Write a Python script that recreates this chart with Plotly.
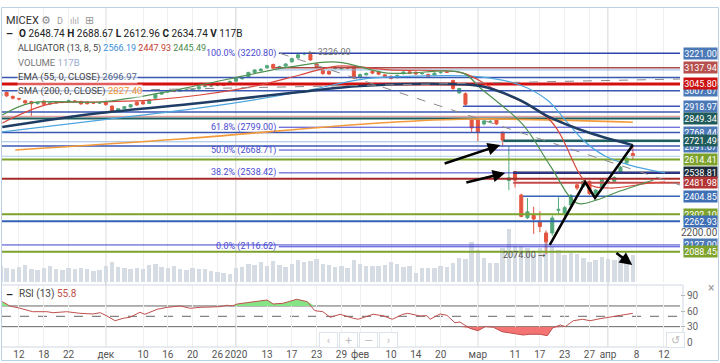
import plotly.graph_objects as go

FONT = "Roboto, 'DejaVu Sans', sans-serif"

# ---------------- data ----------------
days = list(range(-3, 100))  # trading-day index (0 = 12 Nov 2019)
opens = [2978, 2998, 2975, 2962, 2950, 2945, 2934, 2948, 2931, 2937, 2941, 2943, 2948,
         2946, 2943, 2938, 2937, 2945, 2920, 2893, 2905, 2915, 2942, 2944, 2935, 2965, 2988,
         3000, 3005, 3004, 3010, 3008, 3018, 3031, 3034, 3038, 3041, 3045, 3062, 3076, 3085,
         3112, 3122, 3138, 3157, 3140, 3148, 3172, 3195, 3217, 3214, 3160, 3125, 3118, 3135,
         3132, 3138, 3138, 3085, 3098, 3118, 3115, 3098, 3090, 3082, 3105, 3115, 3113, 3104,
         3100, 3096, 3110, 3114, 3065, 2995, 2990, 2840, 2840, 2818, 2830, 2840, 2770, 2495,
         2545, 2412, 2282, 2295, 2260, 2195, 2195, 2325, 2310, 2355, 2470, 2462, 2490, 2418,
         2458, 2486, 2490, 2545, 2595, 2648.74]
highs = [3000, 3003, 2980, 2968, 2955, 2950, 2946, 2952, 2942, 2948, 2948, 2956, 2953,
         2950, 2947, 2943, 2944, 2950, 2923, 2909, 2920, 2931, 2947, 2948, 2958, 2990, 3002,
         3010, 3012, 3016, 3018, 3020, 3035, 3040, 3042, 3046, 3047, 3066, 3082, 3086, 3115,
         3130, 3136, 3155, 3162, 3150, 3164, 3196, 3218, 3226, 3220, 3166, 3130, 3124, 3145,
         3146, 3144, 3142, 3105, 3112, 3123, 3120, 3103, 3094, 3100, 3118, 3120, 3118, 3112,
         3105, 3112, 3118, 3120, 3070, 3024, 2998, 2848, 2845, 2842, 2840, 2845, 2775, 2690,
         2550, 2420, 2395, 2345, 2320, 2210, 2295, 2400, 2350, 2418, 2478, 2498, 2495, 2445,
         2505, 2496, 2520, 2578, 2630, 2688.67]
lows = [2970, 2972, 2958, 2952, 2932, 2857, 2928, 2925, 2926, 2932, 2935, 2938, 2942,
        2928, 2929, 2931, 2932, 2922, 2886, 2888, 2900, 2911, 2922, 2928, 2931, 2962, 2984,
        2996, 2999, 3000, 3005, 3004, 3014, 3026, 3029, 3033, 3034, 3040, 3058, 3070, 3080,
        3108, 3117, 3132, 3130, 3134, 3143, 3168, 3190, 3210, 3178, 3134, 3098, 3098, 3128,
        3127, 3130, 3074, 3078, 3093, 3102, 3096, 3082, 3072, 3078, 3100, 3102, 3098, 3099,
        3083, 3092, 3105, 3108, 3012, 2990, 2922, 2770, 2718, 2810, 2822, 2812, 2690, 2440,
        2455, 2285, 2275, 2190, 2200, 2074, 2180, 2300, 2290, 2345, 2440, 2455, 2412, 2410,
        2452, 2478, 2484, 2540, 2588, 2612.96]
closes = [2992, 2978, 2965, 2960, 2938, 2933, 2940, 2930, 2938, 2944, 2942, 2951, 2947,
          2932, 2933, 2937, 2938, 2928, 2892, 2905, 2916, 2927, 2926, 2932, 2955, 2985, 2996,
          3005, 3004, 3010, 3012, 3016, 3030, 3033, 3036, 3040, 3039, 3060, 3078, 3080, 3112,
          3126, 3130, 3150, 3136, 3144, 3160, 3190, 3212, 3219, 3183, 3140, 3105, 3103, 3138,
          3140, 3137, 3080, 3100, 3106, 3108, 3102, 3088, 3078, 3095, 3114, 3107, 3103, 3106,
          3088, 3108, 3112, 3113, 3020, 3020, 2930, 2795, 2770, 2835, 2832, 2818, 2725, 2510,
          2497, 2290, 2316, 2275, 2232, 2145, 2281, 2330, 2340, 2410, 2452, 2490, 2420, 2440,
          2500, 2489, 2512, 2570, 2622, 2634.74]
volumes = [70, 60, 55, 65, 75, 58, 52, 60, 68, 55, 50, 62, 58,
           60, 55, 48, 52, 70, 85, 65, 60, 55, 62, 58, 75, 80, 65, 60, 70, 55, 50, 62, 58,
           55, 48, 45, 40, 35, 60, 65, 80, 75, 85, 70, 90, 75, 65, 80, 95, 85, 90, 100, 80,
           75, 65, 70, 60, 95, 80, 70, 68, 70, 74, 87, 78, 65, 70, 40, 61, 62, 62, 70, 65,
           83, 104, 100, 175, 139, 104, 83, 83, 148, 230, 157, 157, 148, 117, 148, 175, 152,
           139, 117, 126, 120, 105, 85, 95, 110, 100, 95, 115, 110, 117]

tick_pos = [0, 4, 8, 14, 20, 24, 28, 32, 35, 40, 44, 48, 52, 55, 60, 64, 68, 74, 80, 84,
            88, 92, 95, 99.6, 104]
tick_text = ['12', '18', '22', 'дек', '10', '16', '20', '26', '2020', '13', '17', '23', '29',
             'фев', '10', '14', '20', 'мар', '11', '17', '23', '27', 'апр', '8', '12']
month_pos = [14, 35, 74, 95]

# indicator lines
sma_day = [-0.6, 26, 58.2, 72.7, 99]
sma_val = [2669, 2732, 2823, 2846, 2827.4]
ema_day = [-2.7, 13.1, 29.2, 45.3, 55, 67.9, 74.4, 80.8, 85.2, 92.1, 99]
ema_val = [2800, 2880, 2937, 3000, 3034, 3046, 3034, 2954, 2863, 2766, 2697]
jaw_day = [-2.7, 13.1, 29.2, 45.3, 55.5, 64.7, 74.4, 80.8, 85.2, 88.1, 91.3, 94.5, 98.5, 104.2]
jaw_val = [2772, 2840, 2909, 3000, 3074, 3091, 3086, 3040, 2954, 2840, 2715, 2635, 2583, 2538]
teeth_day = [-2.7, 5.0, 13.1, 21.1, 29.2, 38.9, 45.3, 51.3, 59.8, 71.6, 76, 85.6, 91.6, 95.3, 101.8, 104.2]
teeth_val = [2823, 2932, 2943, 2954, 2983, 3040, 3097, 3148, 3126, 3108, 3029, 2840, 2481, 2452, 2481, 2486]
lips_day = [-2.7, 1.8, 13.1, 22.7, 29.2, 43.7, 51.3, 59.4, 71.6, 74.4, 81.3, 85.6, 90, 93.2, 96.5, 102.3]
lips_val = [2869, 2937, 2943, 2994, 3040, 3143, 3171, 3108, 3108, 3023, 2812, 2583, 2366, 2384, 2429, 2498]

rsi_day = [-2.7, -1.5, 0.2, 2.2, 4.5, 5.5, 7.7, 9.8, 11.9, 13.1, 14.2, 15.5, 16.8, 17.9, 19.5,
           20.3, 22.3, 23.9, 26.0, 27.6, 29.2, 30.8, 32.4, 33.5, 34.4, 35.2, 36.8, 38.4, 40.0,
           41.0, 42.6, 44.8, 46.5, 47.7, 49.0, 50.2, 51.8, 53.9, 54.7, 57.1, 58.7, 60.2, 61.9,
           62.7, 64.7, 65.8, 66.3, 67.9, 69.0, 70.3, 71.1, 72.7, 74.0, 75.2, 76.5, 77.9, 79.2,
           80.3, 81.3, 82.4, 84.0, 85.2, 86.1, 87.3, 88.1, 89.4, 90.9, 92.1, 93.7, 95.0, 96.5,
           98.1, 99.0]
rsi_val = [78.3, 70, 65.5, 58.9, 58.9, 57, 58.9, 55.8, 54.5, 57, 50.6, 41.5, 46.2, 48.1, 57.8,
           53.9, 63.6, 67.4, 70, 65.5, 67.4, 68.6, 68.6, 71.3, 70, 73.8, 76.3, 79, 81.5,
           73.8, 75.2, 82.9, 78.3, 60.9, 58.9, 48.1, 53.9, 46.2, 44.3, 53.9, 51.2, 44.3, 53.9,
           55.8, 50.6, 51.2, 44.3, 54.5, 51.9, 37.7, 39, 26.9, 22.2, 30, 28.8, 20.3, 17.2,
           15.8, 13.9, 15.3, 15.3, 12.6, 28, 33.2, 30, 41.5, 44.3, 41.5, 45.4, 48.1, 50.6,
           54.5, 55.8]

# horizontal drawing levels
level_price = [3221.00, 3137.94, 3126, 3083, 3045.80, 3007.67, 2918.97, 2886, 2860, 2849.34,
               2799.00, 2768.44, 2716, 2721.49, 2691.67, 2668.71, 2633, 2614.41, 2538.81,
               2538.42, 2505, 2481.98, 2404.85, 2302.10, 2262.93, 2127.00, 2116.62, 2088.45]
level_start = [41.9, 41.3, 41.3, -2.74, -2.74, -2.74, 71.6, -2.74, -2.74, -2.74,
               41.9, -2.74, -2.74, 78.1, -2.74, 41.9, -2.74, -2.74, 79.7,
               41.9, -2.74, 79.7, 81.3, -2.74, -2.74, -2.74, 41.9, -2.74]
level_color = ['#2e44a8', '#a84a4a', '#8db4df', '#3a56b4', '#d40f0f', '#3a56b4', '#3a56b4',
               '#3a56b4', '#e4a0a0', '#1e5e5e', '#3f3fd0', '#3a56b4', '#9dbfe6', '#1e5e5e',
               '#3a56b4', '#3f3fd0', '#b0cfea', '#7da22b', '#1b2b3f', '#3f3fd0', '#a52a2a',
               '#c44848', '#3563b3', '#7da22b', '#3563b3', '#3f3fd0', '#3f3fd0', '#7da22b']
level_width = [1.5, 1.5, 1, 1.5, 3, 1.5, 1.5, 1.5, 1.5, 2, 1, 1.5, 1, 2.5, 1.5, 1, 1, 2, 2.5,
               1, 2, 2, 1.5, 2, 2, 1, 1, 2]

box_price = [3221.00, 3137.94, 3007.67, 3045.80, 2918.97, 2849.34, 2768.44, 2691.67, 2721.49,
             2614.41, 2538.81, 2481.98, 2404.85, 2302.10, 2262.93, 2127.00, 2088.45]
box_color = ['#4b79b7', '#b5504e', '#4b79b7', '#cc1111', '#4b79b7', '#1f5b5b', '#4b79b7',
             '#4b79b7', '#1f5b5b', '#7da22b', '#1c2a3a', '#b33434', '#3f6fb5', '#7da22b',
             '#3f6fb5', '#4b79b7', '#7da22b']

fib_level = [3220.80, 2799.00, 2668.71, 2538.42, 2116.62]
fib_name = ['100.0%', '61.8%', '50.0%', '38.2%', '0.0%']
fib_label_day = 41.8

trend_a_day, trend_a_val = [42.1, 106.6], [3220.8, 2469]
trend_b_day, trend_b_val = [18.4, 106.6], [3011.5, 3074]
zig_day = [85.6, 91.3, 92.9, 99.0]
zig_val = [2127, 2486, 2395, 2697]
arrows = [((68.4, 2589), (77.6, 2697)), ((71.9, 2481), (78.4, 2538)), ((96.1, 2087), (98.9, 2013))]

# ---------------- geometry ----------------
W, H = 720, 363
ML, MR, MT, MB = 2, 40, 8, 16
PW, PH = W - ML - MR, H - MT - MB


def px(x):
    return (x - ML) / PW


def py(y):
    return (H - MB - y) / PH


X_RANGE = [-2.74, 106.6]
PRICE_RANGE = [1915.5, 3479.5]
VOL_RANGE = [0, 1187]
RSI_RANGE = [-9.3, 110.5]

fig = go.Figure()

fig.add_trace(go.Bar(x=days, y=volumes, xaxis='x', yaxis='y', marker_color='#d6dce3',
                     marker_line_width=0, width=0.72, hoverinfo='skip'))

for p, s, c, w in zip(level_price, level_start, level_color, level_width):
    fig.add_trace(go.Scatter(x=[s, X_RANGE[1]], y=[p, p], mode='lines', yaxis='y2',
                             line=dict(color=c, width=w), hoverinfo='skip'))

for dd, vv, c, w in [(sma_day, sma_val, '#f39a3c', 1.6), (jaw_day, jaw_val, '#4ea6de', 1.2),
                     (teeth_day, teeth_val, '#d9463b', 1.2), (lips_day, lips_val, '#4f9150', 1.2),
                     (ema_day, ema_val, '#1f3d64', 2.5)]:
    fig.add_trace(go.Scatter(x=dd, y=vv, mode='lines', yaxis='y2', line_shape='spline',
                             line=dict(color=c, width=w), hoverinfo='skip'))

for dd, vv in [(trend_a_day, trend_a_val), (trend_b_day, trend_b_val)]:
    fig.add_trace(go.Scatter(x=dd, y=vv, mode='lines', yaxis='y2',
                             line=dict(color='#8a8a8a', width=1, dash='dash'), hoverinfo='skip'))

G, R = '#53a87a', '#e4553f'
fig.add_trace(go.Candlestick(x=days, open=opens, high=highs, low=lows, close=closes,
                             yaxis='y2', whiskerwidth=0,
                             increasing=dict(line=dict(color=G, width=1), fillcolor=G),
                             decreasing=dict(line=dict(color=R, width=1), fillcolor=R),
                             hoverinfo='skip'))

fig.add_trace(go.Scatter(x=zig_day, y=zig_val, mode='lines', yaxis='y2',
                         line=dict(color='black', width=2.5), hoverinfo='skip'))

# RSI
n = len(rsi_day)
fig.add_trace(go.Scatter(x=rsi_day, y=[70] * n, yaxis='y3', mode='lines', line=dict(width=0),
                         hoverinfo='skip'))
fig.add_trace(go.Scatter(x=rsi_day, y=[max(v, 70) for v in rsi_val], yaxis='y3', mode='lines',
                         line=dict(width=0), fill='tonexty', fillcolor='#86e486', hoverinfo='skip'))
fig.add_trace(go.Scatter(x=rsi_day, y=[30] * n, yaxis='y3', mode='lines', line=dict(width=0),
                         hoverinfo='skip'))
fig.add_trace(go.Scatter(x=rsi_day, y=[min(v, 30) for v in rsi_val], yaxis='y3', mode='lines',
                         line=dict(width=0), fill='tonexty', fillcolor='#f47474', hoverinfo='skip'))
fig.add_trace(go.Scatter(x=rsi_day, y=rsi_val, yaxis='y3', mode='lines',
                         line=dict(color='#c0504d', width=1), hoverinfo='skip'))

shapes = []
for lv, dash in [(70, 'solid'), (50, 'dash'), (30, 'solid')]:
    shapes.append(dict(type='line', xref='paper', x0=0, x1=1, yref='y3', y0=lv, y1=lv,
                       line=dict(color='#666', width=1, dash=dash), layer='below'))
for m in month_pos:
    shapes.append(dict(type='line', xref='x', x0=m, x1=m, yref='paper', y0=0, y1=1,
                       line=dict(color='#c4c4c4', width=1), layer='below'))
edge = '#cfd8e3'
shapes += [
    dict(type='line', xref='paper', yref='paper', x0=0, x1=px(683), y0=py(285), y1=py(285), line=dict(color=edge, width=1)),
    dict(type='line', xref='paper', yref='paper', x0=0, x1=px(683), y0=py(347), y1=py(347), line=dict(color=edge, width=1)),
    dict(type='line', xref='paper', yref='paper', x0=px(683), x1=px(683), y0=py(347), y1=py(285), line=dict(color=edge, width=1)),
    dict(type='rect', xref='paper', yref='paper', x0=px(1.5), x1=px(718.5), y0=py(360.5), y1=py(7.5),
         line=dict(color='#bcd0e6', width=1)),
]

ann = []
for p, c in zip(box_price, box_color):
    ann.append(dict(xref='paper', x=px(683), xanchor='left', yref='y2', y=p, yanchor='middle',
                    text=f'{p:.2f}', showarrow=False, bgcolor=c, width=33, height=11,
                    borderpad=0, font=dict(color='white', size=9, family=FONT)))
for lv, nm in zip(fib_level, fib_name):
    ann.append(dict(xref='x', x=fib_label_day, xanchor='right', yref='y2', y=lv, yanchor='middle',
                    text=f'{nm} ({lv:.2f})', showarrow=False,
                    font=dict(color='#4a4ad0', size=9, family=FONT)))
ann.append(dict(xref='x', x=46.3, xanchor='left', yref='y2', y=3226, yanchor='middle',
                text='← 3226.00', showarrow=False, font=dict(color='#777', size=9, family=FONT)))
ann.append(dict(xref='x', x=85.3, xanchor='right', yref='y2', y=2068, yanchor='middle',
                text='2074.00 →', showarrow=False, font=dict(color='#555', size=9, family=FONT)))
for (sx, sy), (ex, ey) in arrows:
    ann.append(dict(xref='x', yref='y2', x=ex, y=ey, axref='x', ayref='y2', ax=sx, ay=sy,
                    text='', showarrow=True, arrowhead=2, arrowsize=1, arrowwidth=2.5,
                    arrowcolor='black'))


def lab(x, y, text, size=10, color='#444', bg=None):
    d = dict(xref='paper', yref='paper', x=px(x), y=py(y), xanchor='left', yanchor='middle',
             text=text, showarrow=False, font=dict(size=size, color=color, family=FONT))
    if bg:
        d['bgcolor'] = bg
        d['borderpad'] = 0
    return d


bgc = 'rgba(255,255,255,0.65)'
ann += [
    lab(4, 20, 'MICEX', 11, '#333'),
    lab(39, 20, '⚙', 11, '#888'),
    lab(55, 21, 'D', 9, '#999'),
    lab(68, 21, 'ılıl', 9, '#aaa'),
    lab(83, 20, '⊞', 11, '#999'),
    lab(4, 34, '<b>–</b>', 11, '#222'),
    lab(17, 34, '<b>O</b> 2648.74 <b>H</b> 2688.67 <b>L</b> 2612.96 <b>C</b> 2634.74 <b>V</b> 117B', 10, '#222'),
    lab(17, 48, "ALLIGATOR (13, 8, 5) <span style='color:#3b8fd8'>2566.19</span> "
                "<span style='color:#c23b2f'>2447.93</span> <span style='color:#4a8a4a'>2445.49</span>", 9, '#444', bg=bgc),
    lab(17, 62, "VOLUME <span style='color:#9aaac8'>117B</span>", 9.5, '#777', bg=bgc),
    lab(17, 77, "EMA (55, 0, CLOSE) <span style='color:#4d6488'>2696.97</span>", 9.5, '#444', bg=bgc),
    lab(17, 91, "SMA (200, 0, CLOSE) <span style='color:#f0902f'>2827.40</span>", 9.5, '#444', bg=bgc),
    lab(4, 294, '<b>–</b>', 11, '#222'),
    lab(17, 294, "RSI (13) <span style='color:#c0504d'>55.8</span>", 10, '#444'),
    lab(706, 288, '×', 12, '#999'),
]
for x, t in [(319, '‹'), (339, '+'), (359, '—'), (379, '›'), (666, '↺')]:
    ann.append(dict(xref='paper', yref='paper', x=px(x), y=py(340), xanchor='left', yanchor='middle',
                    text=t, showarrow=False, width=17, height=14, borderpad=0,
                    bordercolor='#dde3ea', borderwidth=1, bgcolor='white',
                    font=dict(size=11, color='#bbb', family=FONT)))

fig.update_layout(
    width=W, height=H, margin=dict(l=ML, r=MR, t=MT, b=MB, autoexpand=False),
    paper_bgcolor='white', plot_bgcolor='white', showlegend=False,
    font=dict(family=FONT, size=10, color='#555'),
    xaxis=dict(domain=[0, 1], range=X_RANGE, anchor='y3', tickvals=tick_pos, ticktext=tick_text,
               tickangle=0, automargin=False,
               showgrid=True, gridcolor='#efefef', zeroline=False, showline=False, ticks='',
               tickfont=dict(size=10, color='#555'), rangeslider=dict(visible=False), fixedrange=True),
    yaxis=dict(domain=[py(282), 1], range=VOL_RANGE, visible=False, anchor='x', automargin=False),
    yaxis2=dict(overlaying='y', anchor='x', side='right', range=PRICE_RANGE, tickvals=[2200],
                ticktext=['2200.00'], showgrid=False, zeroline=False, ticks='', automargin=False,
                tickfont=dict(size=10, color='#555')),
    yaxis3=dict(domain=[0, py(285)], range=RSI_RANGE, anchor='x', side='right', automargin=False,
                tickvals=[0, 30, 60, 90], ticks='outside', ticklen=4, tickcolor='#aaa',
                showgrid=False, zeroline=False, tickfont=dict(size=10, color='#666')),
    bargap=0, shapes=shapes, annotations=ann,
)

fig.write_html('out.html', config={'displayModeBar': False},
               post_script="document.body.style.margin='0';document.body.style.overflow='hidden';")
